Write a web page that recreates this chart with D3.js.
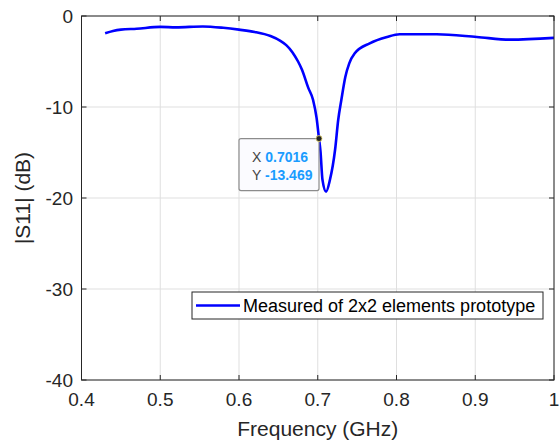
<!DOCTYPE html>
<html>
<head>
<meta charset="utf-8">
<script src="https://cdn.jsdelivr.net/npm/d3@7"></script>
<style>
  body { margin: 0; background: #fff; }
  svg { font-family: 'Liberation Sans', Arial, Helvetica, sans-serif; }
</style>
</head>
<body>
<div id="content"></div>
<script>
const freq = [0.430, 0.440, 0.450, 0.470, 0.500, 0.520, 0.554, 0.580, 0.600, 0.620, 0.640, 0.652, 0.660, 0.668,
    0.675, 0.680, 0.688, 0.694, 0.6985, 0.7016, 0.7035, 0.706, 0.7106, 0.7155, 0.722, 0.726, 0.730, 0.735, 0.740,
    0.747, 0.766, 0.788, 0.804, 0.851, 0.902, 0.944, 1.000]
const s11 = [-1.9, -1.65, -1.5, -1.4, -1.2, -1.25, -1.15, -1.3, -1.5, -1.75, -2.2, -2.7, -3.2, -4.0,
    -5.0, -5.9, -7.9, -9.2, -11.2, -13.469, -14.9, -18.0, -19.3, -18.0, -14.7, -11.4, -9.2, -6.7, -5.2,
    -4.1, -3.0, -2.3, -2.0, -2.0, -2.3, -2.6, -2.4]
const xTicks = [0.4, 0.5, 0.6, 0.7, 0.8, 0.9, 1]
const yTicks = [0, -10, -20, -30, -40]
const legendLabel = 'Measured of 2x2 elements prototype'
const tip = { x: 0.7016, y: -13.469 }

const width = 560
const height = 444
const plotLeft = 81.5
const plotRight = 554
const plotTop = 16
const plotBottom = 380
const axisColor = '#262626'

const svg = d3.select('#content')
    .append('svg')
    .attr('width', width)
    .attr('height', height)

const scaleX = d3.scaleLinear().domain([0.4, 1]).range([plotLeft, plotRight])
const scaleY = d3.scaleLinear().domain([-40, 0]).range([plotBottom, plotTop])

// grid
svg.append('g')
    .selectAll('line')
    .data(xTicks)
    .join('line')
    .attr('x1', d => scaleX(d))
    .attr('x2', d => scaleX(d))
    .attr('y1', plotTop)
    .attr('y2', plotBottom)
    .attr('stroke', '#dfdfdf')
    .attr('stroke-width', 1)

svg.append('g')
    .selectAll('line')
    .data(yTicks)
    .join('line')
    .attr('x1', plotLeft)
    .attr('x2', plotRight)
    .attr('y1', d => scaleY(d))
    .attr('y2', d => scaleY(d))
    .attr('stroke', '#dfdfdf')
    .attr('stroke-width', 1)

// inward ticks on all four sides
const tickLen = 5
const ticks = svg.append('g').attr('stroke', axisColor).attr('stroke-width', 1)
xTicks.forEach(t => {
    ticks.append('line').attr('x1', scaleX(t)).attr('x2', scaleX(t)).attr('y1', plotBottom).attr('y2', plotBottom - tickLen)
    ticks.append('line').attr('x1', scaleX(t)).attr('x2', scaleX(t)).attr('y1', plotTop).attr('y2', plotTop + tickLen)
})
yTicks.forEach(t => {
    ticks.append('line').attr('x1', plotLeft).attr('x2', plotLeft + tickLen).attr('y1', scaleY(t)).attr('y2', scaleY(t))
    ticks.append('line').attr('x1', plotRight).attr('x2', plotRight - tickLen).attr('y1', scaleY(t)).attr('y2', scaleY(t))
})

// curve
const line = d3.line()
    .x(d => scaleX(d[0]))
    .y(d => scaleY(d[1]))
    .curve(d3.curveMonotoneX)

svg.append('path')
    .datum(d3.zip(freq, s11))
    .attr('d', line)
    .attr('fill', 'none')
    .attr('stroke', '#0000ff')
    .attr('stroke-width', 2.6)
    .attr('stroke-linejoin', 'round')

// box
svg.append('rect')
    .attr('x', plotLeft)
    .attr('y', plotTop)
    .attr('width', plotRight - plotLeft)
    .attr('height', plotBottom - plotTop)
    .attr('fill', 'none')
    .attr('stroke', axisColor)
    .attr('stroke-width', 1)

// tick labels
svg.append('g')
    .selectAll('text')
    .data(xTicks)
    .join('text')
    .text(d => d)
    .attr('x', d => scaleX(d))
    .attr('y', 406)
    .attr('text-anchor', 'middle')
    .attr('font-size', 19)
    .attr('fill', axisColor)

svg.append('g')
    .selectAll('text')
    .data(yTicks)
    .join('text')
    .text(d => d)
    .attr('x', 73)
    .attr('y', d => scaleY(d) + 7)
    .attr('text-anchor', 'end')
    .attr('font-size', 19)
    .attr('fill', axisColor)

// axis titles
svg.append('text')
    .text('Frequency (GHz)')
    .attr('x', (plotLeft + plotRight) / 2)
    .attr('y', 436)
    .attr('text-anchor', 'middle')
    .attr('font-size', 21)
    .attr('fill', axisColor)

svg.append('text')
    .text('|S11| (dB)')
    .attr('transform', `translate(30, ${(plotTop + plotBottom) / 2}) rotate(-90)`)
    .attr('text-anchor', 'middle')
    .attr('font-size', 21)
    .attr('fill', axisColor)

// legend
const legend = svg.append('g').attr('transform', 'translate(192, 292)')
legend.append('rect')
    .attr('width', 351)
    .attr('height', 27)
    .attr('fill', '#fff')
    .attr('stroke', axisColor)
    .attr('stroke-width', 1)
legend.append('line')
    .attr('x1', 4).attr('x2', 48)
    .attr('y1', 13.5).attr('y2', 13.5)
    .attr('stroke', '#0000ff')
    .attr('stroke-width', 2.6)
legend.append('text')
    .text(legendLabel)
    .attr('x', 51)
    .attr('y', 20)
    .attr('font-size', 18)
    .attr('fill', '#000')

// data tip
const px = scaleX(tip.x)
const py = scaleY(tip.y)
const tipG = svg.append('g')
tipG.append('rect')
    .attr('x', px - 80)
    .attr('y', py)
    .attr('width', 80)
    .attr('height', 52)
    .attr('rx', 2)
    .attr('fill', '#fbfbff')
    .attr('stroke', '#8c8c8c')
    .attr('stroke-width', 1.2)
const rows = [['X', tip.x.toFixed(4)], ['Y', tip.y.toFixed(3)]]
rows.forEach((r, i) => {
    const t = tipG.append('text')
        .attr('x', px - 67)
        .attr('y', py + 23 + i * 18)
        .attr('font-size', 14)
    t.append('tspan').text(r[0] + ' ').attr('fill', '#444')
    t.append('tspan').text(r[1]).attr('fill', '#1a9cff').attr('font-weight', 'bold')
})
tipG.append('circle')
    .attr('cx', px)
    .attr('cy', py)
    .attr('r', 3)
    .attr('fill', '#222')
    .attr('stroke', '#e8d870')
    .attr('stroke-width', 0.8)
</script>
</body>
</html>
